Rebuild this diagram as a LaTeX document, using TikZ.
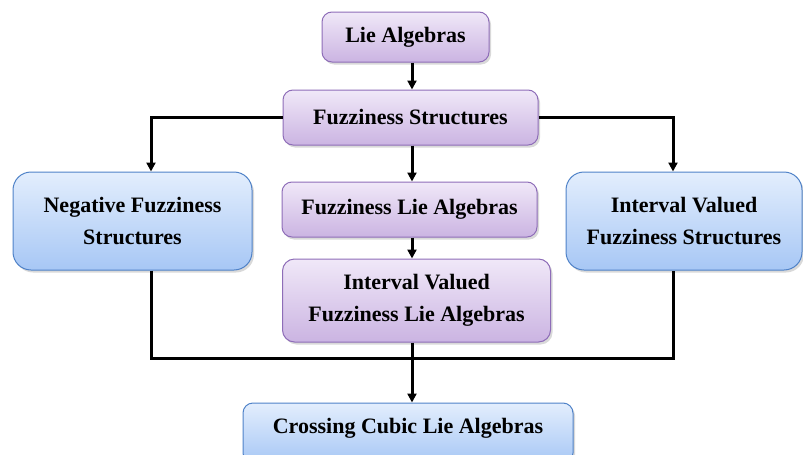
\documentclass[tikz,border=0pt]{standalone}
\usepackage{fontspec}
\setmainfont{Liberation Serif}
\usetikzlibrary{arrows.meta,shadows}
\definecolor{liltop}{HTML}{F0E8F8}
\definecolor{lilbot}{HTML}{CBB4E2}
\definecolor{lilline}{HTML}{8E6DB8}
\definecolor{skytop}{HTML}{E3EEFD}
\definecolor{skybot}{HTML}{A7C7F5}
\definecolor{skyline}{HTML}{4F82C8}

\begin{document}
\begin{tikzpicture}[x=1pt, y=-1pt,
  box/.style={line width=1pt, align=center, inner sep=0pt,
    font=\bfseries\fontsize{22}{32}\selectfont,
    drop shadow={shadow xshift=2pt, shadow yshift=-2.5pt, opacity=0.3}},
  lilbox/.style={box, draw=lilline, top color=liltop, bottom color=lilbot, rounded corners=10pt},
  skybox/.style={box, draw=skyline, top color=skytop, bottom color=skybot, rounded corners=18pt},
  link/.style={line width=3pt, black},
  arr/.style={link, -{Triangle[length=9pt,width=9pt]}}]
\useasboundingbox (0,0) rectangle (803,455);
% boxes
\node [lilbox, minimum width=167, minimum height=50] (lie) at (405.5,37) {Lie Algebras};
\node [lilbox, minimum width=255, minimum height=55] (fs) at (410.5,117.5) {Fuzziness Structures};
\node [skybox, minimum width=239, minimum height=98] (neg) at (132.5,221) {Negative Fuzziness\\Structures};
\node [skybox, minimum width=236, minimum height=98] (ivfs) at (684,221) {Interval Valued\\Fuzziness Structures};
\node [lilbox, minimum width=255, minimum height=55] (fla) at (409.5,209.5) {Fuzziness Lie Algebras};
\node [lilbox, minimum width=268, minimum height=83, rounded corners=12pt] (ivfla) at (416.5,300.5) {Interval Valued\\Fuzziness Lie Algebras};
\node [skybox, minimum width=330, minimum height=60, rounded corners=10pt, text depth=14pt] (ccla) at (408,433) {Crossing Cubic Lie Algebras};
% columns of the connectors
\coordinate (c) at (412,0);
\coordinate (l) at (151,0);
\coordinate (r) at (673,0);
\coordinate (bus) at (0,358);
% connectors
\draw [arr] (lie.south -| c) -- (fs.north -| c);
\draw [arr] (fs.south -| c) -- (fla.north -| c);
\draw [arr] (fla.south -| c) -- (ivfla.north -| c);
\draw [arr] (fs.west) -| (neg.north -| l);
\draw [arr] (fs.east) -| (ivfs.north -| r);
\draw [link] (neg.south -| l) -- (l |- bus) -- (r |- bus) -- (ivfs.south -| r);
\draw [arr] (ivfla.south -| c) -- (ccla.north -| c);
\end{tikzpicture}
\end{document}
